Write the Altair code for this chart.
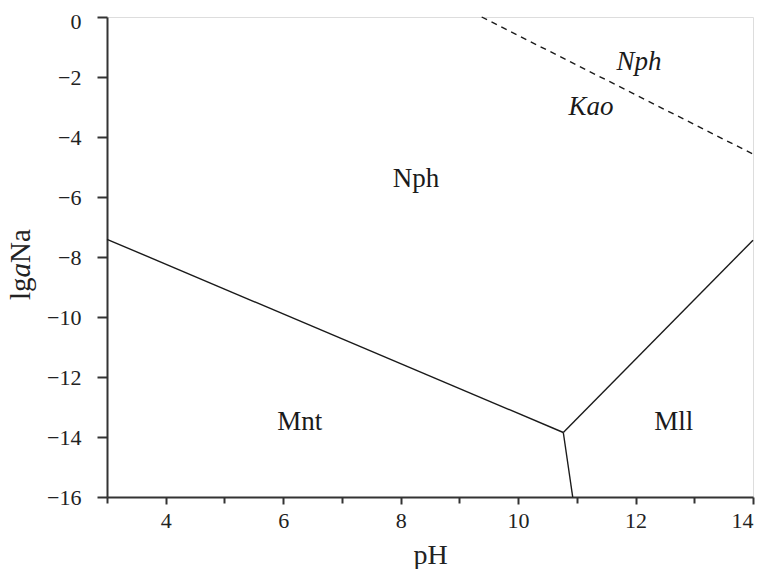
import altair as alt
import pandas as pd

# Solid phase boundaries (pH, lg aNa)
seg_id = ["a", "a", "b", "b", "c", "c"]
seg_x = [3.0, 10.77, 10.77, 10.93, 10.77, 14.0]
seg_y = [-7.41, -13.85, -13.85, -16.0, -13.85, -7.44]

# Dashed boundary Nph/Kao
dash_x = [9.38, 14.0]
dash_y = [0.0, -4.57]

# Field labels
lab_text = ["Nph", "Mnt", "Mll"]
lab_x = [8.26, 6.28, 12.65]
lab_y = [-5.66, -13.78, -13.78]

ital_text = ["Nph", "Kao"]
ital_x = [12.06, 11.24]
ital_y = [-1.77, -3.27]

x_ticks = list(range(3, 15))
y_ticks = list(range(-16, 1))

FONT = "'Liberation Serif', 'Times New Roman', serif"

solid = pd.DataFrame({"seg": seg_id, "x": seg_x, "y": seg_y})
dashed = pd.DataFrame({"x": dash_x, "y": dash_y})
labels = pd.DataFrame({"t": lab_text, "x": lab_x, "y": lab_y})
ilabels = pd.DataFrame({"t": ital_text, "x": ital_x, "y": ital_y})

xscale = alt.Scale(domain=[3, 14], nice=False, zero=False)
yscale = alt.Scale(domain=[-16, 0], nice=False, zero=False)

xaxis = alt.Axis(
    values=x_ticks, format="d",
    labelExpr="datum.value % 2 === 0 ? datum.label : ''",
    tickSize={"condition": {"test": "datum.value % 2 !== 0", "value": 6}, "value": 7},
    labelPadding=6,
    labelFont=FONT, labelFontSize=22, labelColor="#222",
    title="pH", titleFont=FONT, titleFontSize=28, titleFontWeight="normal",
    titleColor="#222", titleBaseline="alphabetic", titleY=66,
    grid=False, domainColor="#333", domainWidth=2, tickColor="#333", tickWidth=2,
)
yaxis = alt.Axis(
    values=y_ticks, format="d",
    labelExpr="datum.value % 2 === 0 ? datum.label : ''",
    tickSize={"condition": {"test": "datum.value % 2 !== 0", "value": 5}, "value": 10},
    labelOffset={"condition": {"test": "datum.value === 0", "value": 4}, "value": 0},
    labelPadding=16,
    labelFont=FONT, labelFontSize=22, labelColor="#222",
    title=None,
    grid=False, domainColor="#333", domainWidth=2, tickColor="#333", tickWidth=2,
)

lines = alt.Chart(solid).mark_line(color="#1a1a1a", strokeWidth=1.4).encode(
    x=alt.X("x:Q", scale=xscale, axis=xaxis),
    y=alt.Y("y:Q", scale=yscale, axis=yaxis),
    detail="seg:N",
)

dline = alt.Chart(dashed).mark_line(color="#1a1a1a", strokeWidth=1.4, strokeDash=[6, 5]).encode(
    x=alt.X("x:Q", scale=xscale),
    y=alt.Y("y:Q", scale=yscale),
)

txt = alt.Chart(labels).mark_text(font=FONT, fontSize=27, color="#1a1a1a",
                                   baseline="alphabetic", align="center").encode(
    x=alt.X("x:Q", scale=xscale), y=alt.Y("y:Q", scale=yscale), text="t:N"
)
itxt = alt.Chart(ilabels).mark_text(font=FONT, fontSize=27, fontStyle="italic", color="#1a1a1a",
                                    baseline="alphabetic", align="center").encode(
    x=alt.X("x:Q", scale=xscale), y=alt.Y("y:Q", scale=yscale), text="t:N"
)

# y-axis title "lg a Na" with italic a, rotated
TS = 29
one = alt.Data(values=[{"k": 1}])
tx = -77
t0 = 283
t1 = t0 - 0.778 * TS
t2 = t1 - 0.5 * TS
ttl1 = alt.Chart(one).mark_text(font=FONT, fontSize=TS, color="#222", angle=270,
                                align="left", baseline="alphabetic").encode(
    x=alt.value(tx), y=alt.value(t0), text=alt.value("lg"))
ttl2 = alt.Chart(one).mark_text(font=FONT, fontSize=TS, fontStyle="italic", color="#222", angle=270,
                                align="left", baseline="alphabetic").encode(
    x=alt.value(tx), y=alt.value(t1), text=alt.value("a"))
ttl3 = alt.Chart(one).mark_text(font=FONT, fontSize=TS, color="#222", angle=270,
                                align="left", baseline="alphabetic").encode(
    x=alt.value(tx), y=alt.value(t2), text=alt.value("Na"))

chart = alt.layer(lines, dline, txt, itxt, ttl1, ttl2, ttl3).properties(
    width=646, height=480,
    autosize=alt.AutoSizeParams(type="none"),
    padding={"left": 99, "top": 9, "right": 6, "bottom": 72},
).configure_view(stroke="#333", strokeWidth=2).configure(
    background="white", font=FONT
).configure_axis(labelFont=FONT, titleFont=FONT).configure_text(font=FONT)

chart.save("out.html", embed_options={"renderer": "svg", "actions": False})
